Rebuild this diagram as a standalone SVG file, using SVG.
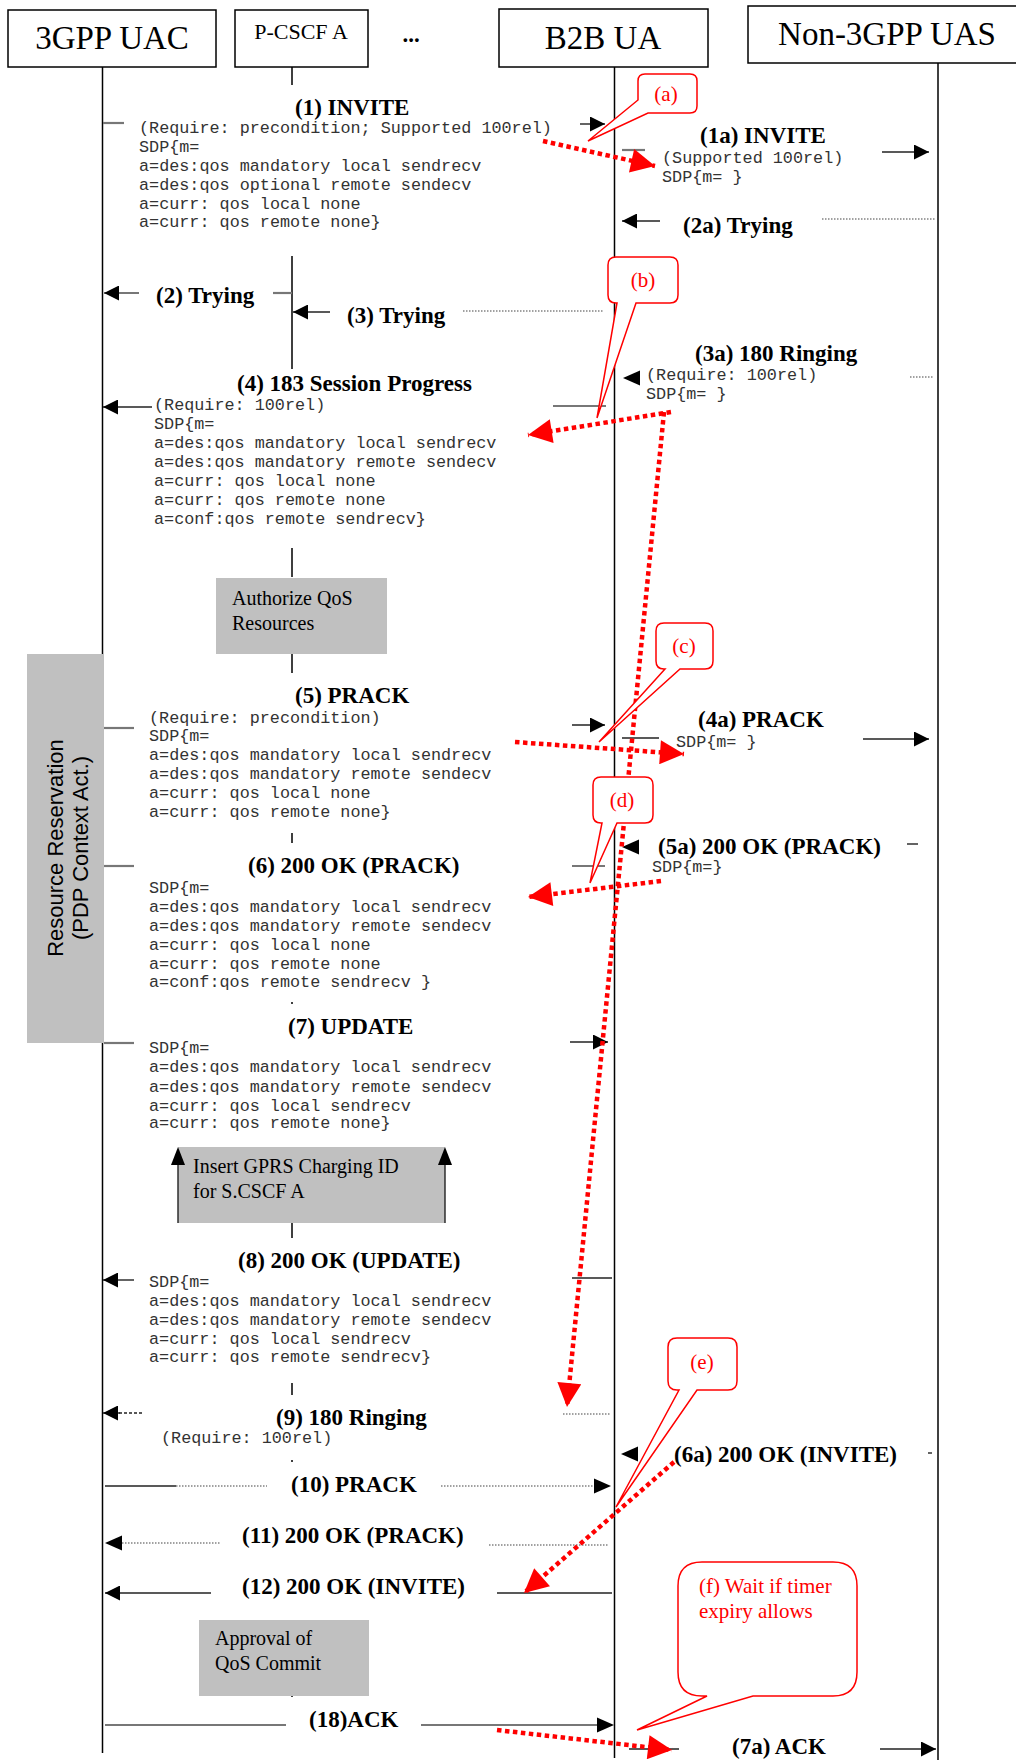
<svg xmlns="http://www.w3.org/2000/svg" width="1016" height="1760" viewBox="0 0 1016 1760">
<defs>
<style>
.box{fill:#fff;stroke:#000;stroke-width:1.5}
.life{stroke:#000;stroke-width:1.5;fill:none}
.ttl{font-family:"Liberation Serif","Times New Roman",serif;font-size:33px;fill:#000}
.pc{font-family:"Liberation Serif","Times New Roman",serif;font-size:22px;fill:#000}
.lbl{font-family:"Liberation Serif","Times New Roman",serif;font-weight:bold;font-size:23px;fill:#000}
.mono{font-family:"Liberation Mono","Courier New",monospace;font-size:16.8px;fill:#333}
.gbox{fill:#c0c0c0}
.gtxt{font-family:"Liberation Serif","Times New Roman",serif;font-size:20px;fill:#000}
.rot{font-family:"Liberation Sans",Arial,sans-serif;font-size:22px;fill:#000}
.msg{stroke:#222;stroke-width:1.4;fill:none}
.gry{stroke:#777;stroke-width:2.2;fill:none}
.dot{stroke:#444;stroke-width:1.2;stroke-dasharray:1.5 1.5;fill:none}
.call{fill:#fff;stroke:#f00;stroke-width:1.5}
.ctxt{font-family:"Liberation Serif","Times New Roman",serif;font-size:21px;fill:#f00}
.red{stroke:#f00;stroke-width:4.5;stroke-dasharray:4.5 3.5;fill:none}
.ah{fill:#000}
</style>
<marker id="a" viewBox="0 0 10 10" refX="10" refY="5" markerWidth="17" markerHeight="15" markerUnits="userSpaceOnUse" orient="auto"><path d="M0,0 L10,5 L0,10 z" fill="#000"/></marker>
<marker id="r" viewBox="0 0 10 10" refX="10" refY="5" markerWidth="26" markerHeight="24" markerUnits="userSpaceOnUse" orient="auto"><path d="M0,0 L10,5 L0,10 z" fill="#f00"/></marker>
</defs>
<rect width="1016" height="1760" fill="#fff"/>

<g id="lifelines">
<line class="life" x1="102.5" y1="67" x2="102.5" y2="1753"/>
<line class="life" x1="614.5" y1="67" x2="614.5" y2="1758"/>
<line class="life" x1="938" y1="63" x2="938" y2="1760"/>
<path class="life" stroke-width="1.2" d="M292,67V85 M292,256V369 M292,548V577 M292,654V673 M292,833V843 M292,1002V1004 M292,1223V1238 M292,1383V1395 M292,1460V1462 M292,1695V1697"/>
</g>

<g id="uac"><rect class="box" x="8" y="10" width="208" height="57"/><text class="ttl" x="112" y="49" text-anchor="middle">3GPP UAC</text></g>
<g id="pcscf"><rect class="box" x="235" y="10" width="133" height="57"/><text class="pc" x="301" y="39" text-anchor="middle">P-CSCF A</text></g>
<g id="dots"><text class="lbl" x="411" y="42" text-anchor="middle">...</text></g>
<g id="b2b"><rect class="box" x="499" y="9" width="209" height="58"/><text class="ttl" x="603" y="49" text-anchor="middle">B2B UA</text></g>
<g id="uas"><rect class="box" x="748" y="6" width="272" height="57"/><text class="ttl" x="887" y="45" text-anchor="middle">Non-3GPP UAS</text></g>

<g id="authorize"><rect class="gbox" x="216" y="578" width="171" height="76"/><text class="gtxt" x="232" y="605">Authorize QoS</text><text class="gtxt" x="232" y="630">Resources</text></g>
<g id="resres"><rect class="gbox" x="27" y="654" width="76" height="389"/>
<text class="rot" transform="translate(63,848) rotate(-90)" text-anchor="middle">Resource Reservation</text>
<text class="rot" transform="translate(88,848) rotate(-90)" text-anchor="middle">(PDP Context Act.)</text></g>
<g id="gprs"><rect class="gbox" x="178" y="1147" width="267" height="76"/>
<line class="msg" x1="178" y1="1223" x2="178" y2="1160"/><polygon class="ah" points="178,1147 171,1165 185,1165"/>
<line class="msg" x1="445" y1="1223" x2="445" y2="1160"/><polygon class="ah" points="445,1147 438,1165 452,1165"/>
<text class="gtxt" x="193" y="1173">Insert GPRS Charging ID</text><text class="gtxt" x="193" y="1198">for S.CSCF A</text></g>
<g id="approval"><rect class="gbox" x="199" y="1620" width="170" height="76"/><text class="gtxt" x="215" y="1645">Approval of</text><text class="gtxt" x="215" y="1670">QoS Commit</text></g>

<g id="connectors">
<line class="gry" x1="103" y1="123" x2="124" y2="123"/>
<line class="msg" x1="580" y1="124" x2="605" y2="124" marker-end="url(#a)"/>
<line class="gry" x1="622" y1="150" x2="645" y2="150"/>
<line class="msg" x1="882" y1="152" x2="929" y2="152" marker-end="url(#a)"/>
<line class="msg" x1="660" y1="221" x2="622" y2="221" marker-end="url(#a)"/>
<line class="dot" x1="822" y1="219" x2="935" y2="219"/>
<line class="gry" x1="139" y1="293" x2="104" y2="293" marker-end="url(#a)"/>
<line class="gry" x1="273" y1="293" x2="292" y2="293"/>
<line class="msg" x1="330" y1="312" x2="293" y2="312" marker-end="url(#a)"/>
<line class="dot" x1="463" y1="311" x2="603" y2="311"/>
<polygon class="ah" points="623,378 640,370.5 640,385.5"/>
<line class="dot" x1="910" y1="377" x2="933" y2="377"/>
<line class="msg" x1="152" y1="407" x2="103" y2="407" marker-end="url(#a)"/>
<line class="gry" x1="553" y1="406" x2="606" y2="406"/>
<line class="gry" x1="104" y1="728" x2="134" y2="728"/>
<line class="msg" x1="572" y1="725" x2="605" y2="725" marker-end="url(#a)"/>
<line class="msg" x1="622" y1="738" x2="659" y2="738"/>
<line class="msg" x1="863" y1="739" x2="929" y2="739" marker-end="url(#a)"/>
<polygon class="ah" points="622,847 639,839.5 639,854.5"/>
<line class="msg" x1="907" y1="844" x2="918" y2="844"/>
<line class="gry" x1="104" y1="866" x2="134" y2="866"/>
<line class="gry" x1="572" y1="866" x2="605" y2="866"/>
<line class="gry" x1="104" y1="1043" x2="134" y2="1043"/>
<line class="msg" x1="570" y1="1042" x2="608" y2="1042" marker-end="url(#a)"/>
<line class="msg" x1="134" y1="1280" x2="103" y2="1280" marker-end="url(#a)"/>
<line class="msg" x1="572" y1="1278" x2="612" y2="1278"/>
<line class="msg" x1="120" y1="1413" x2="103" y2="1413" marker-end="url(#a)"/>
<line class="msg" stroke-dasharray="3 2" x1="142" y1="1413" x2="118" y2="1413"/>
<line class="dot" x1="563" y1="1414" x2="610" y2="1414"/>
<polygon class="ah" points="621,1454 638,1446.5 638,1461.5"/>
<line class="msg" x1="928" y1="1453" x2="932" y2="1453"/>
<line class="msg" x1="105" y1="1486" x2="176" y2="1486"/>
<line class="dot" x1="176" y1="1486" x2="267" y2="1486"/>
<line class="dot" x1="441" y1="1486" x2="596" y2="1486"/>
<polygon class="ah" points="611,1486 594,1478.5 594,1493.5"/>
<polygon class="ah" points="105,1543 122,1535.5 122,1550.5"/>
<line class="dot" x1="122" y1="1543" x2="220" y2="1543"/>
<line class="dot" x1="489" y1="1545" x2="608" y2="1545"/>
<line class="msg" x1="211" y1="1593" x2="105" y2="1593" marker-end="url(#a)"/>
<line class="msg" x1="497" y1="1593" x2="612" y2="1593"/>
<line class="gry" x1="105" y1="1725" x2="286" y2="1725"/>
<line class="gry" x1="421" y1="1725" x2="598" y2="1725"/>
<polygon class="ah" points="614,1725 597,1717.5 597,1732.5"/>
<line class="msg" x1="629" y1="1749" x2="679" y2="1749"/>
<line class="msg" x1="880" y1="1749" x2="936" y2="1749" marker-end="url(#a)"/>
</g>

<g id="labels">
<text class="lbl" x="295" y="115">(1) INVITE</text>
<text class="lbl" x="700" y="143">(1a) INVITE</text>
<text class="lbl" x="683" y="233">(2a) Trying</text>
<text class="lbl" x="156" y="303">(2) Trying</text>
<text class="lbl" x="347" y="323">(3) Trying</text>
<text class="lbl" x="695" y="361">(3a) 180 Ringing</text>
<text class="lbl" x="237" y="391">(4) 183 Session Progress</text>
<text class="lbl" x="295" y="703">(5) PRACK</text>
<text class="lbl" x="698" y="727">(4a) PRACK</text>
<text class="lbl" x="658" y="854">(5a) 200 OK (PRACK)</text>
<text class="lbl" x="248" y="873">(6) 200 OK (PRACK)</text>
<text class="lbl" x="288" y="1034">(7) UPDATE</text>
<text class="lbl" x="238" y="1268">(8) 200 OK (UPDATE)</text>
<text class="lbl" x="276" y="1425">(9) 180 Ringing</text>
<text class="lbl" x="674" y="1462">(6a) 200 OK (INVITE)</text>
<text class="lbl" x="291" y="1492">(10) PRACK</text>
<text class="lbl" x="242" y="1543">(11) 200 OK (PRACK)</text>
<text class="lbl" x="242" y="1594">(12) 200 OK (INVITE)</text>
<text class="lbl" x="309" y="1727">(18)ACK</text>
<text class="lbl" x="732" y="1754">(7a) ACK</text>
</g>

<g id="sdp">
<text class="mono" x="139" y="133">(Require: precondition; Supported 100rel)</text>
<text class="mono" x="139" y="152">SDP{m=</text>
<text class="mono" x="139" y="171">a=des:qos mandatory local sendrecv</text>
<text class="mono" x="139" y="190">a=des:qos optional remote sendecv</text>
<text class="mono" x="139" y="209">a=curr: qos local none</text>
<text class="mono" x="139" y="227">a=curr: qos remote none}</text>

<text class="mono" x="662" y="163">(Supported 100rel)</text>
<text class="mono" x="662" y="182">SDP{m= }</text>

<text class="mono" x="646" y="380">(Require: 100rel)</text>
<text class="mono" x="646" y="399">SDP{m= }</text>

<text class="mono" x="154" y="410">(Require: 100rel)</text>
<text class="mono" x="154" y="429">SDP{m=</text>
<text class="mono" x="154" y="448">a=des:qos mandatory local sendrecv</text>
<text class="mono" x="154" y="467">a=des:qos mandatory remote sendecv</text>
<text class="mono" x="154" y="486">a=curr: qos local none</text>
<text class="mono" x="154" y="505">a=curr: qos remote none</text>
<text class="mono" x="154" y="524">a=conf:qos remote sendrecv}</text>

<text class="mono" x="149" y="723">(Require: precondition)</text>
<text class="mono" x="149" y="741">SDP{m=</text>
<text class="mono" x="149" y="760">a=des:qos mandatory local sendrecv</text>
<text class="mono" x="149" y="779">a=des:qos mandatory remote sendecv</text>
<text class="mono" x="149" y="798">a=curr: qos local none</text>
<text class="mono" x="149" y="817">a=curr: qos remote none}</text>

<text class="mono" x="676" y="747">SDP{m= }</text>
<text class="mono" x="652" y="872">SDP{m=}</text>

<text class="mono" x="149" y="893">SDP{m=</text>
<text class="mono" x="149" y="912">a=des:qos mandatory local sendrecv</text>
<text class="mono" x="149" y="931">a=des:qos mandatory remote sendecv</text>
<text class="mono" x="149" y="950">a=curr: qos local none</text>
<text class="mono" x="149" y="969">a=curr: qos remote none</text>
<text class="mono" x="149" y="987">a=conf:qos remote sendrecv }</text>

<text class="mono" x="149" y="1053">SDP{m=</text>
<text class="mono" x="149" y="1072">a=des:qos mandatory local sendrecv</text>
<text class="mono" x="149" y="1092">a=des:qos mandatory remote sendecv</text>
<text class="mono" x="149" y="1111">a=curr: qos local sendrecv</text>
<text class="mono" x="149" y="1128">a=curr: qos remote none}</text>

<text class="mono" x="149" y="1287">SDP{m=</text>
<text class="mono" x="149" y="1306">a=des:qos mandatory local sendrecv</text>
<text class="mono" x="149" y="1325">a=des:qos mandatory remote sendecv</text>
<text class="mono" x="149" y="1344">a=curr: qos local sendrecv</text>
<text class="mono" x="149" y="1362">a=curr: qos remote sendrecv}</text>

<text class="mono" x="161" y="1443">(Require: 100rel)</text>
</g>

<g id="red-arrows">
<line class="red" x1="543" y1="141" x2="655" y2="166" marker-end="url(#r)"/>
<line class="red" x1="671" y1="412" x2="528" y2="435" marker-end="url(#r)"/>
<line class="red" x1="664" y1="412" x2="567" y2="1407" marker-end="url(#r)"/>
<line class="red" x1="515" y1="742" x2="684" y2="754" marker-end="url(#r)"/>
<line class="red" x1="661" y1="881" x2="528" y2="897" marker-end="url(#r)"/>
<line class="red" x1="674" y1="1462" x2="524" y2="1593" marker-end="url(#r)"/>
<line class="red" x1="497" y1="1730" x2="672" y2="1750" marker-end="url(#r)"/>
</g>

<g id="callout-a"><path class="call" d="M645,74 H690 Q697,74 697,81 V106 Q697,113 690,113 H648 L588,141 L638,100 V81 Q638,74 645,74 Z"/><text class="ctxt" x="666" y="101" text-anchor="middle">(a)</text></g>
<g id="callout-b"><path class="call" d="M616,257 H670 Q678,257 678,265 V295 Q678,303 670,303 H636 L597,418 L617,303 H616 Q608,303 608,295 V265 Q608,257 616,257 Z"/><text class="ctxt" x="643" y="287" text-anchor="middle">(b)</text></g>
<g id="callout-c"><path class="call" d="M664,623 H705 Q713,623 713,631 V661 Q713,669 705,669 H680 L599,742 L665,669 H664 Q656,669 656,661 V631 Q656,623 664,623 Z"/><text class="ctxt" x="684" y="653" text-anchor="middle">(c)</text></g>
<g id="callout-d"><path class="call" d="M601,777 H645 Q653,777 653,785 V815 Q653,823 645,823 H617 L590,883 L602,823 H601 Q593,823 593,815 V785 Q593,777 601,777 Z"/><text class="ctxt" x="622" y="807" text-anchor="middle">(d)</text></g>
<g id="callout-e"><path class="call" d="M677,1338 H728 Q737,1338 737,1347 V1381 Q737,1390 728,1390 H697 L616,1507 L679,1390 H677 Q668,1390 668,1381 V1347 Q668,1338 677,1338 Z"/><text class="ctxt" x="702" y="1369" text-anchor="middle">(e)</text></g>
<g id="callout-f"><path class="call" d="M702,1562 H833 Q857,1562 857,1586 V1672 Q857,1696 833,1696 H753 L637,1730 L707,1696 H702 Q678,1696 678,1672 V1586 Q678,1562 702,1562 Z"/><text class="ctxt" x="699" y="1593">(f) Wait if timer</text><text class="ctxt" x="699" y="1618">expiry allows</text></g>
</svg>
